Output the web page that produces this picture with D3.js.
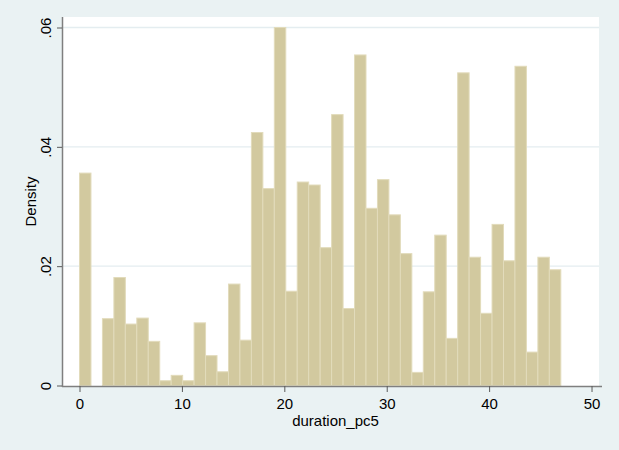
<!DOCTYPE html>
<html><head><meta charset="utf-8">
<script src="https://cdn.jsdelivr.net/npm/d3@7"></script>
<style>
html,body{margin:0;padding:0;background:#eaf2f3;}
text{font-family:"Liberation Sans",Arial,sans-serif;}
</style></head>
<body><div id="chart"></div>
<script>
// Histogram of duration_pc5: 42 bins from 0 to 47
const binStart = 0;
const binEnd = 47;
const densities = [
  0.0356, 0, 0.0112, 0.0181, 0.0103, 0.0113, 0.0074, 0.0008, 0.0017, 0.0008,
  0.0105, 0.0050, 0.0023, 0.0170, 0.0076, 0.0424, 0.0330, 0.0600, 0.0158, 0.0341,
  0.0336, 0.0231, 0.0454, 0.0129, 0.0554, 0.0297, 0.0345, 0.0286, 0.0221, 0.0022,
  0.0157, 0.0252, 0.0079, 0.0524, 0.0215, 0.0121, 0.0270, 0.0209, 0.0535, 0.0056,
  0.0215, 0.0194
];
const xTicks = [0, 10, 20, 30, 40, 50];
const yTicks = [0, 0.02, 0.04, 0.06];
const yTickLabels = ["0", ".02", ".04", ".06"];
const xTitle = "duration_pc5";
const yTitle = "Density";

const W = 619, H = 450;
const FS = 15;
const plot = {left: 62, right: 599, top: 17, bottom: 386};

const svg = d3.select("#chart").append("svg").attr("width", W).attr("height", H);
svg.append("rect").attr("width", W).attr("height", H).attr("fill", "#eaf2f3");
svg.append("rect").attr("x", plot.left).attr("y", plot.top)
  .attr("width", plot.right - plot.left).attr("height", plot.bottom - plot.top).attr("fill", "#ffffff");

const x = d3.scaleLinear().domain([-1.71, 50.73]).range([plot.left, plot.right]);
const y = d3.scaleLinear().domain([0, 0.06]).range([385.5, 27.5]);

// gridlines
svg.append("g").selectAll("line").data(yTicks.slice(1)).join("line")
  .attr("x1", plot.left).attr("x2", plot.right)
  .attr("y1", d => y(d)).attr("y2", d => y(d))
  .attr("stroke", "#e4edf0").attr("stroke-width", 1.3);

const n = densities.length;
const bw = (binEnd - binStart) / n;
const bins = densities.map((d, i) => ({x0: binStart + i * bw, x1: binStart + (i + 1) * bw, d}));

svg.append("g").selectAll("rect").data(bins.filter(b => b.d > 0)).join("rect")
  .attr("x", b => x(b.x0)).attr("width", b => x(b.x1) - x(b.x0))
  .attr("y", b => y(b.d)).attr("height", b => y(0) - y(b.d))
  .attr("fill", "#d2c99f").attr("stroke", "#e2dbbb").attr("stroke-width", 1);

// x axis
const xAxis = d3.axisBottom(x).tickValues(xTicks).tickSize(6).tickPadding(5).tickSizeOuter(0);
const gx = svg.append("g").attr("transform", `translate(0,${plot.bottom})`).call(xAxis);
gx.select(".domain").attr("d", `M${plot.left},0.5H${plot.right + 3}`).attr("stroke", "#7f7f7f").attr("stroke-width", 1.5);
gx.selectAll(".tick line").attr("stroke", "#5a5a5a");
gx.selectAll(".tick text").attr("font-size", FS).attr("fill", "#000").attr("dy", "0.8em")
  .style("font-family", "'Liberation Sans', Arial, sans-serif");

// y axis
const yAxis = d3.axisLeft(y).tickValues(yTicks).tickFormat((d, i) => yTickLabels[i]).tickSize(5).tickSizeOuter(0);
const gy = svg.append("g").attr("transform", `translate(${plot.left},0)`).call(yAxis);
gy.select(".domain").attr("d", `M0.5,${plot.top}V${plot.bottom + 1}`).attr("stroke", "#7f7f7f").attr("stroke-width", 1.5);
gy.selectAll(".tick line").attr("stroke", "#5a5a5a");
gy.selectAll(".tick text").remove();
gy.selectAll(".tick").append("text")
  .attr("transform", "translate(-16,0) rotate(-90)")
  .attr("text-anchor", "middle").attr("dy", "0.35em")
  .attr("font-size", FS).attr("fill", "#000")
  .style("font-family", "'Liberation Sans', Arial, sans-serif")
  .text((d, i) => yTickLabels[i]);

// titles
svg.append("text").attr("x", x(25)).attr("y", 426).attr("text-anchor", "middle")
  .attr("font-size", FS).attr("fill", "#000").text(xTitle);
svg.append("text").attr("transform", `translate(36,${(plot.top + plot.bottom) / 2}) rotate(-90)`)
  .attr("text-anchor", "middle").attr("font-size", FS).attr("fill", "#000").text(yTitle);
</script></body></html>
